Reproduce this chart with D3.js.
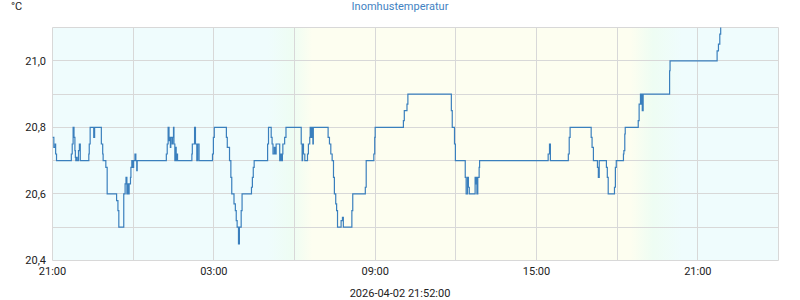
<!DOCTYPE html>
<html>
<head>
<meta charset="utf-8">
<script src="https://cdn.jsdelivr.net/npm/d3@7"></script>
<style>
  body { margin: 0; background: #fff; }
  svg { display: block; font-family: Roboto, "Liberation Sans", Arial, sans-serif; }
</style>
</head>
<body>
<svg id="chart" width="800" height="300"></svg>
<script>
// step change points: clock time (rolls over past midnight) and temperature
const readings = [
  ["21:00", 20.77], ["21:03", 20.74], ["21:06", 20.75], ["21:07", 20.72], ["21:09", 20.70],
  ["21:42", 20.72], ["21:44", 20.75], ["21:46", 20.80], ["21:48", 20.77], ["21:50", 20.73],
  ["21:51", 20.71], ["21:52", 20.70], ["21:54", 20.71], ["21:55", 20.70], ["21:58", 20.73],
  ["22:00", 20.75], ["22:02", 20.70], ["22:21", 20.72], ["22:22", 20.75], ["22:24", 20.80],
  ["22:32", 20.77], ["22:34", 20.80], ["22:49", 20.75], ["22:52", 20.72], ["22:53", 20.70],
  ["22:59", 20.68], ["23:02", 20.60], ["23:23", 20.58], ["23:26", 20.55], ["23:28", 20.50],
  ["23:39", 20.60], ["23:42", 20.63], ["23:44", 20.65], ["23:46", 20.60], ["23:48", 20.63],
  ["23:50", 20.60], ["23:51", 20.63], ["23:54", 20.65], ["23:55", 20.68], ["23:57", 20.70],
  ["23:59", 20.68], ["00:01", 20.70], ["00:04", 20.72], ["00:06", 20.70], ["00:08", 20.67],
  ["00:09", 20.70],
  ["01:14", 20.72], ["01:16", 20.75], ["01:18", 20.80], ["01:20", 20.76], ["01:21", 20.77],
  ["01:23", 20.74], ["01:24", 20.77], ["01:27", 20.75], ["01:28", 20.77], ["01:30", 20.80],
  ["01:31", 20.75], ["01:33", 20.70], ["01:34", 20.74], ["01:36", 20.70], ["01:37", 20.72],
  ["01:39", 20.70], ["02:11", 20.72], ["02:12", 20.75], ["02:17", 20.80], ["02:19", 20.75],
  ["02:22", 20.70], ["02:24", 20.75], ["02:27", 20.70], ["02:57", 20.72], ["02:59", 20.77],
  ["03:01", 20.80], ["03:28", 20.77], ["03:30", 20.74], ["03:35", 20.70], ["03:38", 20.65],
  ["03:40", 20.60], ["03:45", 20.57], ["03:48", 20.55], ["03:50", 20.52], ["03:52", 20.50],
  ["03:55", 20.45], ["03:57", 20.50], ["04:01", 20.55], ["04:03", 20.60], ["04:24", 20.62],
  ["04:26", 20.65], ["04:28", 20.68], ["04:30", 20.70], ["05:00", 20.75], ["05:02", 20.80],
  ["05:08", 20.77], ["05:10", 20.75], ["05:12", 20.72], ["05:15", 20.74], ["05:17", 20.72],
  ["05:19", 20.75], ["05:27", 20.70], ["05:29", 20.72], ["05:31", 20.70], ["05:33", 20.72],
  ["05:34", 20.75], ["05:38", 20.77], ["05:41", 20.80], ["06:15", 20.75], ["06:17", 20.70],
  ["06:18", 20.75], ["06:20", 20.72], ["06:23", 20.70], ["06:29", 20.72], ["06:31", 20.75],
  ["06:34", 20.77], ["06:35", 20.80], ["06:37", 20.77], ["06:39", 20.80], ["06:41", 20.75],
  ["06:42", 20.80], ["07:15", 20.77], ["07:18", 20.75], ["07:21", 20.72], ["07:24", 20.70],
  ["07:27", 20.65], ["07:29", 20.60], ["07:32", 20.57], ["07:34", 20.55], ["07:36", 20.50],
  ["07:44", 20.52], ["07:47", 20.53], ["07:49", 20.50], ["08:08", 20.55], ["08:10", 20.60],
  ["08:38", 20.62], ["08:40", 20.70], ["08:57", 20.72], ["08:59", 20.77], ["09:00", 20.80],
  ["10:03", 20.82], ["10:05", 20.85], ["10:11", 20.87], ["10:13", 20.90], ["11:50", 20.85],
  ["11:52", 20.80], ["11:55", 20.80], ["11:57", 20.75], ["11:59", 20.70], ["12:21", 20.65],
  ["12:23", 20.60], ["12:26", 20.65], ["12:28", 20.62], ["12:30", 20.60], ["12:43", 20.65],
  ["12:44", 20.63], ["12:46", 20.65], ["12:47", 20.60], ["12:49", 20.65], ["12:52", 20.68],
  ["12:53", 20.70], ["15:26", 20.72], ["15:29", 20.75], ["15:31", 20.70], ["16:11", 20.72],
  ["16:13", 20.77], ["16:15", 20.80], ["17:02", 20.77], ["17:04", 20.74], ["17:07", 20.70],
  ["17:16", 20.68], ["17:18", 20.65], ["17:20", 20.70], ["17:36", 20.68], ["17:38", 20.65],
  ["17:40", 20.60], ["17:54", 20.62], ["17:56", 20.68], ["17:58", 20.70], ["18:14", 20.72],
  ["18:15", 20.73], ["18:17", 20.78], ["18:18", 20.80], ["18:47", 20.82], ["18:49", 20.87],
  ["18:52", 20.90], ["18:53", 20.87], ["18:55", 20.90], ["18:56", 20.85], ["18:58", 20.90],
  ["19:57", 20.97], ["19:58", 21.00], ["21:43", 21.03], ["21:46", 21.05], ["21:49", 21.08],
  ["21:51", 21.12], ["21:52", 21.12]
];

const startDay = "2026-04-01";
const domainStart = "2026-04-01T21:00";
const domainEnd = "2026-04-03T00:00";
const yDomain = [20.4, 21.1];
const yGridValues = [20.4, 20.5, 20.6, 20.7, 20.8, 20.9, 21.0, 21.1];
const yLabelValues = [20.4, 20.6, 20.8, 21.0];
const xLabelHours = ["21:00", "03:00", "09:00", "15:00", "21:00"];
const chartTitle = "Inomhustemperatur";
const unitLabel = "°C";
const stampLabel = "2026-04-02 21:52:00";

// daylight shading
const skyStops = [
  { t: "2026-04-02T05:00", color: "#effcfd" },
  { t: "2026-04-02T05:55", color: "#eefdf3" },
  { t: "2026-04-02T06:40", color: "#fdfef0" },
  { t: "2026-04-02T18:30", color: "#fdfef0" },
  { t: "2026-04-02T19:20", color: "#eefdf3" },
  { t: "2026-04-02T20:25", color: "#effcfd" }
];

const margin = { left: 52.5, right: 778.5, top: 27.5, bottom: 260.5 };
const svg = d3.select('#chart');

// parse clock strings, rolling the date when the hour wraps
const parseTime = d3.timeParse("%Y-%m-%dT%H:%M");
let day = d3.timeParse("%Y-%m-%d")(startDay);
let prevMin = -1;
const data = readings.map(([clock, v]) => {
  const [h, m] = clock.split(':').map(Number);
  const mins = h * 60 + m;
  if (mins < prevMin) day = d3.timeDay.offset(day, 1);
  prevMin = mins;
  const t = new Date(day.getTime());
  t.setHours(h, m, 0, 0);
  return { t, v };
});

const x = d3.scaleTime()
  .domain([parseTime(domainStart), parseTime(domainEnd)])
  .range([margin.left, margin.right]);
const y = d3.scaleLinear()
  .domain(yDomain)
  .range([margin.bottom, margin.top]);

const locale = d3.formatLocale({ decimal: ",", thousands: " ", grouping: [3], currency: ["", " kr"] });
const fmt = locale.format(".1f");

// background gradient
const defs = svg.append('defs');
const grad = defs.append('linearGradient')
  .attr('id', 'sky')
  .attr('gradientUnits', 'userSpaceOnUse')
  .attr('x1', margin.left).attr('x2', margin.right)
  .attr('y1', 0).attr('y2', 0);
skyStops.forEach(s => {
  grad.append('stop')
    .attr('offset', (x(parseTime(s.t)) - margin.left) / (margin.right - margin.left))
    .attr('stop-color', s.color);
});
defs.append('clipPath').attr('id', 'plot-clip')
  .append('rect')
  .attr('x', margin.left).attr('y', margin.top)
  .attr('width', margin.right - margin.left)
  .attr('height', margin.bottom - margin.top);

svg.append('rect')
  .attr('x', margin.left).attr('y', margin.top)
  .attr('width', margin.right - margin.left)
  .attr('height', margin.bottom - margin.top)
  .attr('fill', 'url(#sky)');

// grid
const gridColor = '#d8d8d8';
svg.append('g').selectAll('line')
  .data(yGridValues)
  .join('line')
  .attr('x1', margin.left).attr('x2', margin.right)
  .attr('y1', d => Math.round(y(d) - 0.5) + 0.5)
  .attr('y2', d => Math.round(y(d) - 0.5) + 0.5)
  .attr('stroke', gridColor);

const t0 = x.domain()[0];
const xGrid = d3.range(0, 10).map(i => d3.timeHour.offset(t0, 3 * i));
svg.append('g').selectAll('line')
  .data(xGrid)
  .join('line')
  .attr('x1', d => Math.round(x(d) - 0.5) + 0.5)
  .attr('x2', d => Math.round(x(d) - 0.5) + 0.5)
  .attr('y1', margin.top).attr('y2', margin.bottom)
  .attr('stroke', gridColor);

// temperature line
const line = d3.line()
  .x(d => x(d.t))
  .y(d => y(d.v))
  .curve(d3.curveStepAfter);

svg.append('path')
  .datum(data)
  .attr('clip-path', 'url(#plot-clip)')
  .attr('fill', 'none')
  .attr('stroke', '#3a7fbd')
  .attr('stroke-width', 1.2)
  .attr('d', line);

// y labels
svg.append('g').selectAll('text')
  .data(yLabelValues)
  .join('text')
  .attr('x', 46)
  .attr('y', d => y(d))
  .attr('dy', '0.35em')
  .attr('text-anchor', 'end')
  .attr('font-size', 11)
  .attr('fill', '#222')
  .text(d => fmt(d));

// x labels every 6 hours from the start
const xLabelTimes = xLabelHours.map((_, i) => d3.timeHour.offset(t0, 6 * i));
svg.append('g').selectAll('text')
  .data(xLabelTimes)
  .join('text')
  .attr('x', d => x(d))
  .attr('y', 275)
  .attr('text-anchor', 'middle')
  .attr('font-size', 11)
  .attr('fill', '#222')
  .text((d, i) => xLabelHours[i]);

svg.append('text')
  .attr('x', 400).attr('y', 10)
  .attr('text-anchor', 'middle')
  .attr('font-size', 11)
  .attr('fill', '#3f82c2')
  .text(chartTitle);

svg.append('text')
  .attr('x', 11).attr('y', 10)
  .attr('font-size', 11)
  .attr('fill', '#222')
  .text(unitLabel);

svg.append('text')
  .attr('x', 400).attr('y', 297)
  .attr('text-anchor', 'middle')
  .attr('font-size', 11)
  .attr('fill', '#222')
  .text(stampLabel);
</script>
</body>
</html>
